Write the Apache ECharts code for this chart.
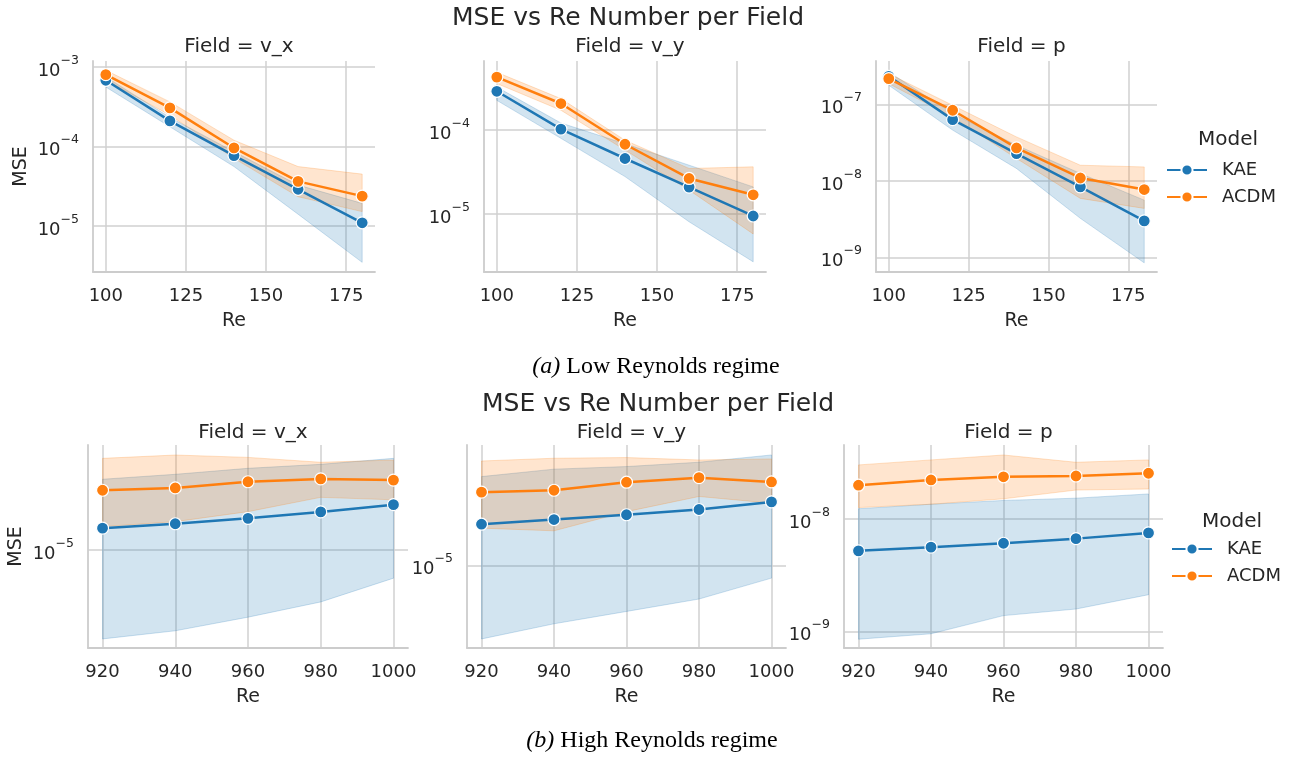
<!DOCTYPE html>
<html>
<head>
<meta charset="utf-8">
<title>MSE vs Re Number per Field</title>
<script src="https://cdn.jsdelivr.net/npm/echarts@6/dist/echarts.min.js"></script>
<style>
html, body { margin: 0; padding: 0; background: #fff; }
#chart { width: 1294px; height: 757px; }
</style>
</head>
<body>
<div id="chart"></div>
<script>
const models = ['KAE', 'ACDM'];
const fields = ['v_x', 'v_y', 'p'];
const reLow = [100, 120, 140, 160, 180];
const reHigh = [920, 940, 960, 980, 1000];
const reLowTicks = [100, 125, 150, 175];
const reHighTicks = [920, 940, 960, 980, 1000];

// low Re regime: mean, lower / upper band
const lowVxKae = [6.8e-4, 2.1e-4, 7.7e-5, 2.9e-5, 1.1e-5];
const lowVxKaeLo = [5.6e-4, 1.77e-4, 5.6e-5, 1.41e-5, 3.5e-6];
const lowVxKaeHi = [7.5e-4, 2.32e-4, 8.6e-5, 3.28e-5, 1.93e-5];
const lowVxAcdm = [8.0e-4, 3.06e-4, 9.6e-5, 3.65e-5, 2.38e-5];
const lowVxAcdmLo = [6.8e-4, 2.48e-4, 7.1e-5, 2.34e-5, 1.52e-5];
const lowVxAcdmHi = [9.1e-4, 3.64e-4, 1.2e-4, 5.6e-5, 4.5e-5];

const lowVyKae = [2.91e-4, 1.03e-4, 4.6e-5, 2.1e-5, 9.5e-6];
const lowVyKaeLo = [2.27e-4, 8.0e-5, 2.8e-5, 8.1e-6, 2.7e-6];
const lowVyKaeHi = [3.27e-4, 1.22e-4, 6.9e-5, 3.83e-5, 2.11e-5];
const lowVyAcdm = [4.3e-4, 2.08e-4, 6.8e-5, 2.66e-5, 1.7e-5];
const lowVyAcdmLo = [3.6e-4, 1.73e-4, 5.8e-5, 1.93e-5, 5.8e-6];
const lowVyAcdmHi = [4.9e-4, 2.38e-4, 7.6e-5, 3.5e-5, 3.66e-5];

const lowPKae = [2.32e-7, 6.3e-8, 2.27e-8, 8.35e-9, 3.0e-9];
const lowPKaeLo = [1.77e-7, 4.6e-8, 1.45e-8, 3.24e-9, 8.5e-10];
const lowPKaeHi = [2.64e-7, 7.6e-8, 2.92e-8, 1.25e-8, 5.6e-9];
const lowPAcdm = [2.16e-7, 8.35e-8, 2.69e-8, 1.09e-8, 7.7e-9];
const lowPAcdmLo = [1.86e-7, 6.8e-8, 1.96e-8, 5.9e-9, 4.37e-9];
const lowPAcdmHi = [2.51e-7, 9.7e-8, 3.75e-8, 1.6e-8, 1.52e-8];

// high Re regime
const highVxKae = [1.47e-5, 1.59e-5, 1.75e-5, 1.96e-5, 2.23e-5];
const highVxKaeLo = [2.06e-6, 2.38e-6, 3.03e-6, 3.97e-6, 6.05e-6];
const highVxKaeHi = [3.5e-5, 3.82e-5, 4.25e-5, 4.56e-5, 5.07e-5];
const highVxAcdm = [2.88e-5, 3.0e-5, 3.35e-5, 3.52e-5, 3.45e-5];
const highVxAcdmLo = [1.51e-5, 1.65e-5, 1.97e-5, 2.54e-5, 2.43e-5];
const highVxAcdmHi = [5.07e-5, 5.38e-5, 5.16e-5, 4.73e-5, 4.92e-5];

const highVyKae = [2.08e-5, 2.26e-5, 2.46e-5, 2.70e-5, 3.09e-5];
const highVyKaeLo = [2.72e-6, 3.56e-6, 4.43e-6, 5.52e-6, 8.0e-6];
const highVyKaeHi = [4.84e-5, 5.52e-5, 5.78e-5, 6.24e-5, 7.1e-5];
const highVyAcdm = [3.67e-5, 3.8e-5, 4.38e-5, 4.75e-5, 4.4e-5];
const highVyAcdmLo = [1.94e-5, 1.85e-5, 2.6e-5, 3.4e-5, 3.02e-5];
const highVyAcdmHi = [6.38e-5, 6.7e-5, 6.78e-5, 6.5e-5, 6.62e-5];

const highPKae = [5.22e-9, 5.63e-9, 6.1e-9, 6.71e-9, 7.55e-9];
const highPKaeLo = [8.5e-10, 9.5e-10, 1.38e-9, 1.58e-9, 2.12e-9];
const highPKaeHi = [1.24e-8, 1.36e-8, 1.47e-8, 1.54e-8, 1.68e-8];
const highPAcdm = [2.01e-8, 2.24e-8, 2.39e-8, 2.43e-8, 2.57e-8];
const highPAcdmLo = [1.27e-8, 1.36e-8, 1.52e-8, 1.82e-8, 1.86e-8];
const highPAcdmHi = [3.05e-8, 3.38e-8, 3.74e-8, 3.22e-8, 3.38e-8];

const colors = { KAE: '#1f77b4', ACDM: '#ff7f0e' };
const bandColors = { KAE: 'rgba(31,119,180,0.2)', ACDM: 'rgba(255,127,14,0.2)' };
const bandEdge = { KAE: 'rgba(31,119,180,0.22)', ACDM: 'rgba(255,127,14,0.22)' };
const textColor = '#262626';
const gridColor = '#d0d0d0';
const spineColor = '#cccccc';
const font = 'DejaVu Sans';

// one entry per facet (layout + which arrays it uses)
const panels = [
  { grid: { left: 93, top: 61, width: 282, height: 211 }, x: reLow, xTicks: reLowTicks, xr: [96, 184], yExp: [-5.577, -2.925],
    KAE: [lowVxKae, lowVxKaeLo, lowVxKaeHi], ACDM: [lowVxAcdm, lowVxAcdmLo, lowVxAcdmHi] },
  { grid: { left: 484, top: 61, width: 282, height: 211 }, x: reLow, xTicks: reLowTicks, xr: [96, 184], yExp: [-5.690, -3.175],
    KAE: [lowVyKae, lowVyKaeLo, lowVyKaeHi], ACDM: [lowVyAcdm, lowVyAcdmLo, lowVyAcdmHi] },
  { grid: { left: 876, top: 61, width: 281, height: 211 }, x: reLow, xTicks: reLowTicks, xr: [96, 184], yExp: [-9.190, -6.435],
    KAE: [lowPKae, lowPKaeLo, lowPKaeHi], ACDM: [lowPAcdm, lowPAcdmLo, lowPAcdmHi] },
  { grid: { left: 88, top: 445, width: 320, height: 203 }, x: reHigh, xTicks: reHighTicks, xr: [916, 1004], yExp: [-5.756, -4.192],
    KAE: [highVxKae, highVxKaeLo, highVxKaeHi], ACDM: [highVxAcdm, highVxAcdmLo, highVxAcdmHi] },
  { grid: { left: 467, top: 445, width: 319, height: 203 }, x: reHigh, xTicks: reHighTicks, xr: [916, 1004], yExp: [-5.635, -4.072],
    KAE: [highVyKae, highVyKaeLo, highVyKaeHi], ACDM: [highVyAcdm, highVyAcdmLo, highVyAcdmHi] },
  { grid: { left: 844, top: 445, width: 319, height: 203 }, x: reHigh, xTicks: reHighTicks, xr: [916, 1004], yExp: [-9.149, -7.338],
    KAE: [highPKae, highPKaeLo, highPKaeHi], ACDM: [highPAcdm, highPAcdmLo, highPAcdmHi] }
];

// filled band between lo and hi, drawn once as a polygon through the axes
function bandSeries(i, m, xs, lo, hi) {
  return {
    name: m + ' band', type: 'custom', xAxisIndex: i, yAxisIndex: i, silent: true, z: 1,
    data: xs.map((x, k) => [x, lo[k], hi[k]]),
    encode: { x: 0, y: [1, 2] },
    renderItem: (params, api) => {
      if (params.dataIndex !== 0) return null;
      const pts = [];
      for (let k = 0; k < xs.length; k++) pts.push(api.coord([xs[k], hi[k]]));
      for (let k = xs.length - 1; k >= 0; k--) pts.push(api.coord([xs[k], lo[k]]));
      return {
        type: 'polygon', shape: { points: pts },
        style: { fill: bandColors[m], stroke: bandEdge[m], lineWidth: 1 }
      };
    }
  };
}

const grids = [], xAxes = [], yAxes = [], series = [], titles = [];

panels.forEach((p, i) => {
  grids.push(p.grid);
  xAxes.push({
    type: 'value', gridIndex: i, min: p.xr[0], max: p.xr[1],
    axisLine: { show: true, lineStyle: { color: spineColor, width: 1.8 } },
    axisTick: { show: false, customValues: p.xTicks },
    axisLabel: { customValues: p.xTicks, formatter: v => String(v), fontSize: 18, fontFamily: font, color: textColor, margin: 15 },
    splitLine: { show: true, lineStyle: { color: gridColor, width: 1.5 } },
    name: 'Re', nameLocation: 'middle', nameGap: 40,
    nameTextStyle: { fontSize: 19, fontFamily: font, color: textColor }
  });
  yAxes.push({
    type: 'log', logBase: 10, gridIndex: i,
    min: Math.pow(10, p.yExp[0]), max: Math.pow(10, p.yExp[1]),
    axisLine: { show: true, lineStyle: { color: spineColor, width: 1.8 } },
    axisTick: { show: false },
    splitLine: { show: true, showMinLine: false, showMaxLine: false, lineStyle: { color: gridColor, width: 1.5 } },
    axisLabel: {
      showMinLabel: false, showMaxLabel: false, margin: 14,
      formatter: v => '{b|10}{sup|\u2212' + (-Math.round(Math.log10(v))) + '}',
      rich: {
        b: { fontSize: 18, fontFamily: font, color: textColor, lineHeight: 26, verticalAlign: 'bottom' },
        sup: { fontSize: 12.5, fontFamily: font, color: textColor, lineHeight: 12, verticalAlign: 'top' }
      }
    },
    name: i % 3 === 0 ? 'MSE' : '', nameLocation: 'middle', nameGap: 62, nameRotate: 90,
    nameTextStyle: { fontSize: 19, fontFamily: font, color: textColor }
  });

  // bands underneath, mean lines with markers on top
  models.forEach(m => {
    const [, lo, hi] = p[m];
    series.push(bandSeries(i, m, p.x, lo, hi));
  });
  models.forEach((m, j) => {
    const mean = p[m][0];
    series.push({
      name: m, type: 'line', xAxisIndex: i, yAxisIndex: i, z: 3 + j,
      symbol: 'circle', symbolSize: 12, showSymbol: true,
      lineStyle: { color: colors[m], width: 2.5 },
      itemStyle: { color: colors[m], borderColor: '#ffffff', borderWidth: 1.2 },
      data: p.x.map((x, k) => [x, mean[k]])
    });
  });

  titles.push({
    text: 'Field = ' + fields[i % 3],
    left: p.grid.left + p.grid.width / 2, textAlign: 'center',
    top: i < 3 ? p.grid.top - 29 : p.grid.top - 27,
    textStyle: { fontSize: 20, fontWeight: 'normal', fontFamily: font, color: textColor }
  });
});

const supStyle = { fontSize: 25, fontWeight: 'normal', fontFamily: font, color: textColor };
titles.push({ text: 'MSE vs Re Number per Field', left: 623, textAlign: 'center', top: 1, textStyle: supStyle });
titles.push({ text: 'MSE vs Re Number per Field', left: 653, textAlign: 'center', top: 387, textStyle: supStyle });

const legendTitle = { fontSize: 20, fontWeight: 'normal', fontFamily: font, color: textColor };
titles.push({ text: 'Model', left: 1223, textAlign: 'center', top: 125, textStyle: legendTitle });
titles.push({ text: 'Model', left: 1227, textAlign: 'center', top: 507, textStyle: legendTitle });

const capStyle = {
  fontSize: 24, fontWeight: 'normal', fontFamily: 'Liberation Serif', color: '#000',
  rich: { i: { fontSize: 24, fontStyle: 'italic', fontFamily: 'Liberation Serif', color: '#000' } }
};
titles.push({ text: '{i|(a)} Low Reynolds regime', left: 651, textAlign: 'center', top: 350, textStyle: capStyle });
titles.push({ text: '{i|(b)} High Reynolds regime', left: 647, textAlign: 'center', top: 724, textStyle: capStyle });

const legendBase = {
  data: models, orient: 'vertical', selectedMode: false, padding: 0,
  itemWidth: 40, itemHeight: 14, itemGap: 9,
  textStyle: { fontSize: 18, fontFamily: font, color: textColor, padding: [0, 0, 0, 10] }
};

const chart = echarts.init(document.getElementById('chart'));
chart.setOption({
  backgroundColor: '#ffffff',
  animation: false,
  title: titles,
  legend: [
    Object.assign({}, legendBase, { left: 1166, top: 161 }),
    Object.assign({}, legendBase, { left: 1171, top: 540 })
  ],
  grid: grids,
  xAxis: xAxes,
  yAxis: yAxes,
  series: series
});
</script>
</body>
</html>
